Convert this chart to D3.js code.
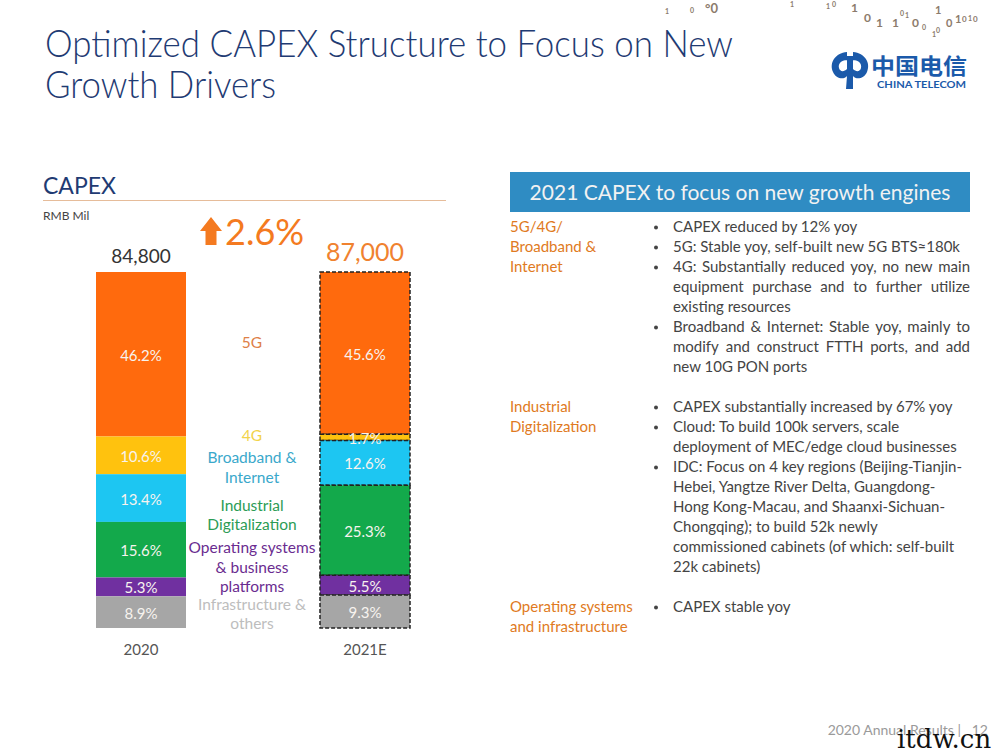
<!DOCTYPE html>
<html><head><meta charset="utf-8">
<script src="https://cdn.jsdelivr.net/npm/d3@7"></script>
<style>body{margin:0;background:#fff}svg{display:block}</style>
</head><body>
<svg id="c" width="1000" height="750"></svg>
<script>
// ---------- data ----------
const years = ["2020", "2021E"];
const totals = ["84,800", "87,000"];
const growth = "2.6%";
const segments = ["5G", "4G", "Broadband & Internet", "Industrial Digitalization", "Operating systems & business platforms", "Infrastructure & others"];
const share2020 = [46.2, 10.6, 13.4, 15.6, 5.3, 8.9];
const share2021E = [45.6, 1.7, 12.6, 25.3, 5.5, 9.3];
const legendLines = [["5G"], ["4G"], ["Broadband &", "Internet"], ["Industrial", "Digitalization"], ["Operating systems", "& business", "platforms"], ["Infrastructure &", "others"]];

const groupLabels = [["5G/4G/", "Broadband &", "Internet"], ["Industrial", "Digitalization"], ["Operating systems", "and infrastructure"]];
const group1Bullets = [
  ["CAPEX reduced by 12% yoy"],
  ["5G: Stable yoy, self-built new 5G BTS≈180k"],
  ["4G: Substantially reduced yoy, no new main", "equipment purchase and to further utilize", "existing resources"],
  ["Broadband & Internet: Stable yoy, mainly to", "modify and construct FTTH ports, and add", "new 10G PON ports"]
];
const group1Justify = [false, false, true, true];
const group2Bullets = [
  ["CAPEX substantially increased by 67% yoy"],
  ["Cloud: To build 100k servers, scale", "deployment of MEC/edge cloud businesses"],
  ["IDC: Focus on 4 key regions (Beijing-Tianjin-", "Hebei, Yangtze River Delta, Guangdong-", "Hong Kong-Macau, and Shaanxi-Sichuan-", "Chongqing); to build 52k newly", "commissioned cabinets (of which: self-built", "22k cabinets)"]
];
const group3Bullets = [["CAPEX stable yoy"]];

// ---------- styles ----------
const FONT = "Lato, 'Open Sans', sans-serif";
const segColors = ["#FF6A0D", "#FFC20E", "#1DC6F2", "#13A94B", "#7030A0", "#A6A6A6"];
const legendColors = ["#DE8047", "#F2D34A", "#3AA8CB", "#2C9C55", "#6A2C90", "#BDBDBD"];
const svg = d3.select("#c").style("font-family", FONT);

// ---------- title ----------
const title = svg.append("g").attr("fill", "#1F3B73").attr("font-size", 37).attr("font-weight", 300);
title.append("text").attr("x", 45).attr("y", 57).text("Optimized CAPEX Structure to Focus on New")
  .attr("textLength", 688).attr("lengthAdjust", "spacingAndGlyphs");
title.append("text").attr("x", 45).attr("y", 98).text("Growth Drivers")
  .attr("textLength", 231).attr("lengthAdjust", "spacingAndGlyphs");

// decorative binary digits
const bits = [[826,9,"1",7],[832,7,"0",7],[851,12,"1",12],[864,22,"0",12],[876,27,"1",12],[892,27,"1",12],[900,16,"0",7],[905,18,"1",7],[912,27,"0",12],[922,30,"0",7],[935,14,"1",11],[932,37,"1",7],[936,33,"0",7],[946,27,"0",11],[955,23,"1",11],[962,22,"0",8],[968,21,"1",7],[973,22,"0",8],[665,14,"1",7],[690,13,"0",7],[705,13,"°0",13],[790,7,"1",7]];
svg.append("g").attr("fill", "#8C7B6C").attr("font-weight", "bold").selectAll("text").data(bits).join("text")
  .attr("x", d => d[0]).attr("y", d => d[1]).attr("font-size", d => d[3]).text(d => d[2]);

// logo
const logo = svg.append("g").attr("fill", "#1B5AAA");
logo.append("path").attr("d", "M847,52 C835,53 829,63 833,72 C836,79 844,80 847,76 L846,89 L853,89 L853,76 C856,80 864,79 867,72 C871,63 865,53 853,52 L853,60 C859,60 862,64 861,68 C860,72 856,72 853,69 L853,56 L847,56 L847,69 C844,72 840,72 839,68 C838,64 841,60 847,60 Z");
logo.append("text").attr("x", 871).attr("y", 74).attr("font-size", 22).attr("font-weight", "bold")
  .attr("font-family", "'Noto Sans CJK SC', sans-serif").text("中国电信").attr("textLength", 96).attr("lengthAdjust", "spacingAndGlyphs");
logo.append("text").attr("x", 877).attr("y", 88).attr("font-size", 9.5).attr("font-weight", "bold")
  .text("CHINA TELECOM").attr("textLength", 89).attr("lengthAdjust", "spacingAndGlyphs");

// ---------- left chart ----------
svg.append("text").attr("x", 43).attr("y", 194).attr("font-size", 23).attr("fill", "#1F3B73").text("CAPEX");
svg.append("line").attr("x1", 43).attr("x2", 446).attr("y1", 200.5).attr("y2", 200.5).attr("stroke", "#E6BC9A");
svg.append("text").attr("x", 43).attr("y", 220).attr("font-size", 12).attr("fill", "#444").text("RMB Mil");

const x = d3.scalePoint().domain(years).range([141, 365]);
const y = d3.scaleLinear().domain([0, 100]).range([272, 628]);
const barW = 90;

const table = years.map((yr, i) => {
  const row = { year: yr };
  const vals = i === 0 ? share2020 : share2021E;
  segments.forEach((s, j) => row[s] = vals[j]);
  return row;
});
const stacked = d3.stack().keys(segments)(table);

const gBars = svg.append("g");
stacked.forEach((layer, j) => {
  layer.forEach((d, i) => {
    const yr = years[i];
    const y0 = y(d[0]), y1 = y(d[1]);
    gBars.append("rect").attr("x", x(yr) - barW / 2).attr("y", y0).attr("width", barW).attr("height", y1 - y0)
      .attr("fill", segColors[j])
      .attr("stroke", i === 1 ? "#222" : "none").attr("stroke-width", i === 1 ? 1.5 : 0)
      .attr("stroke-dasharray", i === 1 ? "4,2" : null);
  });
});
stacked.forEach((layer, j) => {
  layer.forEach((d, i) => {
    const mid = (y(d[0]) + y(d[1])) / 2;
    gBars.append("text").attr("x", x(years[i])).attr("y", mid + 6.5).attr("text-anchor", "middle")
      .attr("font-size", 15).attr("fill", "#F7F3EF").text(d3.format(".1f")(d[1] - d[0]) + "%");
  });
});

// totals
svg.append("text").attr("x", x(years[0])).attr("y", 263).attr("text-anchor", "middle").attr("font-size", 19).attr("fill", "#333").text(totals[0]);
svg.append("text").attr("x", x(years[1])).attr("y", 261).attr("text-anchor", "middle").attr("font-size", 25).attr("fill", "#F0822F").text(totals[1]);

// growth
svg.append("path").attr("d", "M211,217 L222,231 L216.5,231 L216.5,245 L205.5,245 L205.5,231 L200,231 Z").attr("fill", "#F47A20");
svg.append("text").attr("x", 225).attr("y", 245).attr("font-size", 36).attr("fill", "#F47A20").text(growth);

// year labels
svg.append("g").selectAll("text").data(years).join("text")
  .attr("x", d => x(d)).attr("y", 655).attr("text-anchor", "middle").attr("font-size", 15).attr("fill", "#555").text(d => d);

// middle legend
const legendY = [[348], [441], [463, 483], [511, 530], [553, 573, 592], [610, 629]];
legendLines.forEach((lines, j) => {
  lines.forEach((ln, k) => {
    svg.append("text").attr("x", 252).attr("y", legendY[j][k]).attr("text-anchor", "middle")
      .attr("font-size", 15.5).attr("fill", legendColors[j]).text(ln);
  });
});

// ---------- right panel ----------
svg.append("rect").attr("x", 510).attr("y", 172).attr("width", 460).attr("height", 40).attr("fill", "#2F8CC3");
svg.append("text").attr("x", 740).attr("y", 200).attr("text-anchor", "middle").attr("font-size", 21).attr("fill", "#F2F2F2")
  .text("2021 CAPEX to focus on new growth engines");

const LH = 20, TX = 673, TR = 970;
function drawGroup(labelLines, bullets, justify, y0) {
  labelLines.forEach((ln, k) => svg.append("text").attr("x", 510).attr("y", y0 + k * LH).attr("font-size", 15)
    .attr("fill", "#E07A22").text(ln));
  let row = 0;
  bullets.forEach((lines, b) => {
    svg.append("circle").attr("cx", 656).attr("cy", y0 + row * LH - 4.5).attr("r", 2).attr("fill", "#444");
    lines.forEach((ln, k) => {
      const yy = y0 + row * LH;
      const jf = justify && justify[b] && k < lines.length - 1;
      if (!jf) {
        svg.append("text").attr("x", TX).attr("y", yy).attr("font-size", 15).attr("fill", "#444").text(ln);
      } else {
        const words = ln.split(" ");
        const g = svg.append("g").attr("font-size", 15).attr("fill", "#444");
        const ts = words.map(w => g.append("text").attr("y", yy).text(w));
        const widths = ts.map(t => t.node().getComputedTextLength());
        const gap = (TR - TX - d3.sum(widths)) / (words.length - 1);
        let cx = TX;
        ts.forEach((t, i) => { t.attr("x", cx); cx += widths[i] + gap; });
      }
      row++;
    });
  });
}
drawGroup(groupLabels[0], group1Bullets, group1Justify, 232);
drawGroup(groupLabels[1], group2Bullets, null, 412);
drawGroup(groupLabels[2], group3Bullets, null, 612);

// footer
svg.append("text").attr("x", 988).attr("y", 735).attr("text-anchor", "end").attr("font-size", 14).attr("fill", "#9A9A9A")
  .attr("xml:space", "preserve").text("2020 Annual Results |   12");
svg.append("text").attr("x", 897).attr("y", 748).attr("font-size", 26).attr("font-family", "'DejaVu Serif', serif")
  .attr("fill", "#111").text("itdw.cn");
</script>
</body></html>
